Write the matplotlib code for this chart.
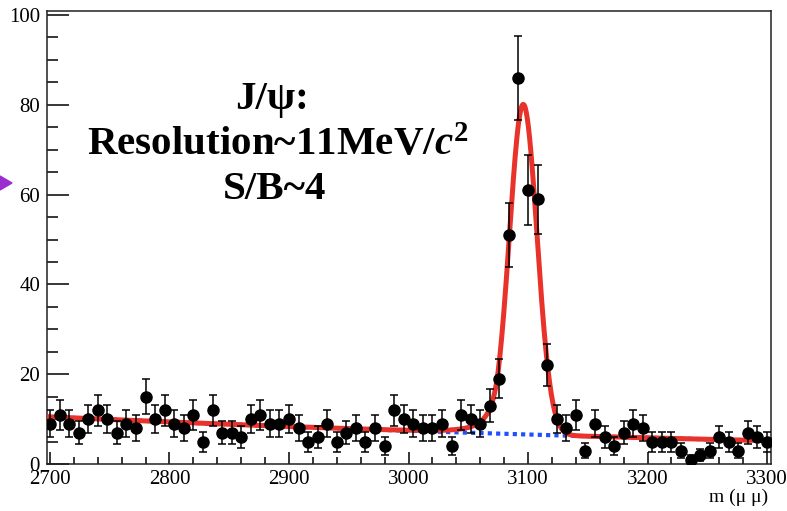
import numpy as np
import matplotlib
matplotlib.use("Agg")
import matplotlib.pyplot as plt
from matplotlib.ticker import MultipleLocator
from matplotlib.patches import Polygon

# dimuon mass bins (MeV), 8 MeV wide
mass = np.arange(2700, 3301, 8)
counts = [9, 11, 9, 7, 10, 12, 10, 7, 9, 8,
          15, 10, 12, 9, 8, 11, 5, 12, 7, 7,
          6, 10, 11, 9, 9, 10, 8, 5, 6, 9,
          5, 7, 8, 5, 8, 4, 12, 10, 9, 8,
          8, 9, 4, 11, 10, 9, 13, 19, 51, 86,
          61, 59, 22, 10, 8, 11, 3, 9, 6, 4,
          7, 9, 8, 5, 5, 5, 3, 1, 2, 3,
          6, 5, 3, 7, 6, 5]

peak_mean = 3096.0
peak_sigma = 11.5
peak_amp = 73.5
cb_alpha = 1.8
cb_n = 3.0
bkg_coef = [7.4, -0.00883, 5e-6]   # quadratic around 3000 MeV

labels = ["J/\u03c8:", "Resolution~11MeV/$c^{2}$", "S/B~4"]

plt.rcParams["font.family"] = ["Liberation Serif", "DejaVu Serif"]
plt.rcParams["mathtext.fontset"] = "custom"
plt.rcParams["mathtext.rm"] = "Liberation Serif:bold"
plt.rcParams["mathtext.it"] = "Liberation Serif:italic:bold"
plt.rcParams["mathtext.bf"] = "Liberation Serif:bold"


def background(m):
    d = m - 3000.0
    return bkg_coef[0] + bkg_coef[1] * d + bkg_coef[2] * d * d


def crystal_ball(m):
    t = (m - peak_mean) / peak_sigma
    a = (cb_n / cb_alpha) ** cb_n * np.exp(-cb_alpha ** 2 / 2)
    b = cb_n / cb_alpha - cb_alpha
    tail = a * np.abs(b - t) ** (-cb_n)
    core = np.exp(-t * t / 2)
    return peak_amp * np.where(t > -cb_alpha, core, tail)


fig = plt.figure(figsize=(7.87, 5.11), dpi=100)
ax = fig.add_axes([47 / 787, 47 / 511, 724 / 787, 453 / 511])

mm = np.linspace(2697, 3303, 1200)
ax.plot(mm, background(mm), color="#1f4fff", lw=3.0, ls=(0, (1, 1)), zorder=2)
ax.plot(mm, background(mm) + crystal_ball(mm), color="#e8322a", lw=3.6, zorder=3)

y = np.array(counts, dtype=float)
ax.errorbar(mass, y, yerr=np.sqrt(y), fmt="o", color="black", ms=8,
            elinewidth=1.1, capsize=3.2, capthick=1.1, zorder=4)

ax.set_xlim(2697.5, 3303.3)
ax.set_ylim(0, 100.9)
ax.xaxis.set_major_locator(MultipleLocator(100))
ax.xaxis.set_minor_locator(MultipleLocator(20))
ax.yaxis.set_major_locator(MultipleLocator(20))
ax.yaxis.set_minor_locator(MultipleLocator(5))
ax.tick_params(axis="both", which="both", direction="in", labelsize=15, width=1.1)
ax.tick_params(axis="x", which="major", length=8.6, pad=4)
ax.tick_params(axis="x", which="minor", length=5)
ax.tick_params(axis="y", which="major", length=15.8, pad=5)
ax.tick_params(axis="y", which="minor", length=7.9)
for s in ax.spines.values():
    s.set_linewidth(1.1)
    s.set_color("#222222")

fig.text(768 / 787, 1 - 502 / 511, "m (\u03bc \u03bc)", ha="right", va="baseline", fontsize=14)

ax.text(2886, 79.0, labels[0], ha="center", va="baseline", fontsize=29.5, fontweight="bold")
ax.text(2891, 68.8, labels[1], ha="center", va="baseline", fontsize=29.5, fontweight="bold")
ax.text(2888, 59.0, labels[2], ha="center", va="baseline", fontsize=29.5, fontweight="bold")

# purple pointer on the left edge
fig.patches.append(Polygon([[0, 1 - 176 / 511], [0, 1 - 190 / 511], [12 / 787, 1 - 183 / 511]],
                           closed=True, transform=fig.transFigure, color="#9a2ed0"))

fig.savefig("out.png", dpi=100)
